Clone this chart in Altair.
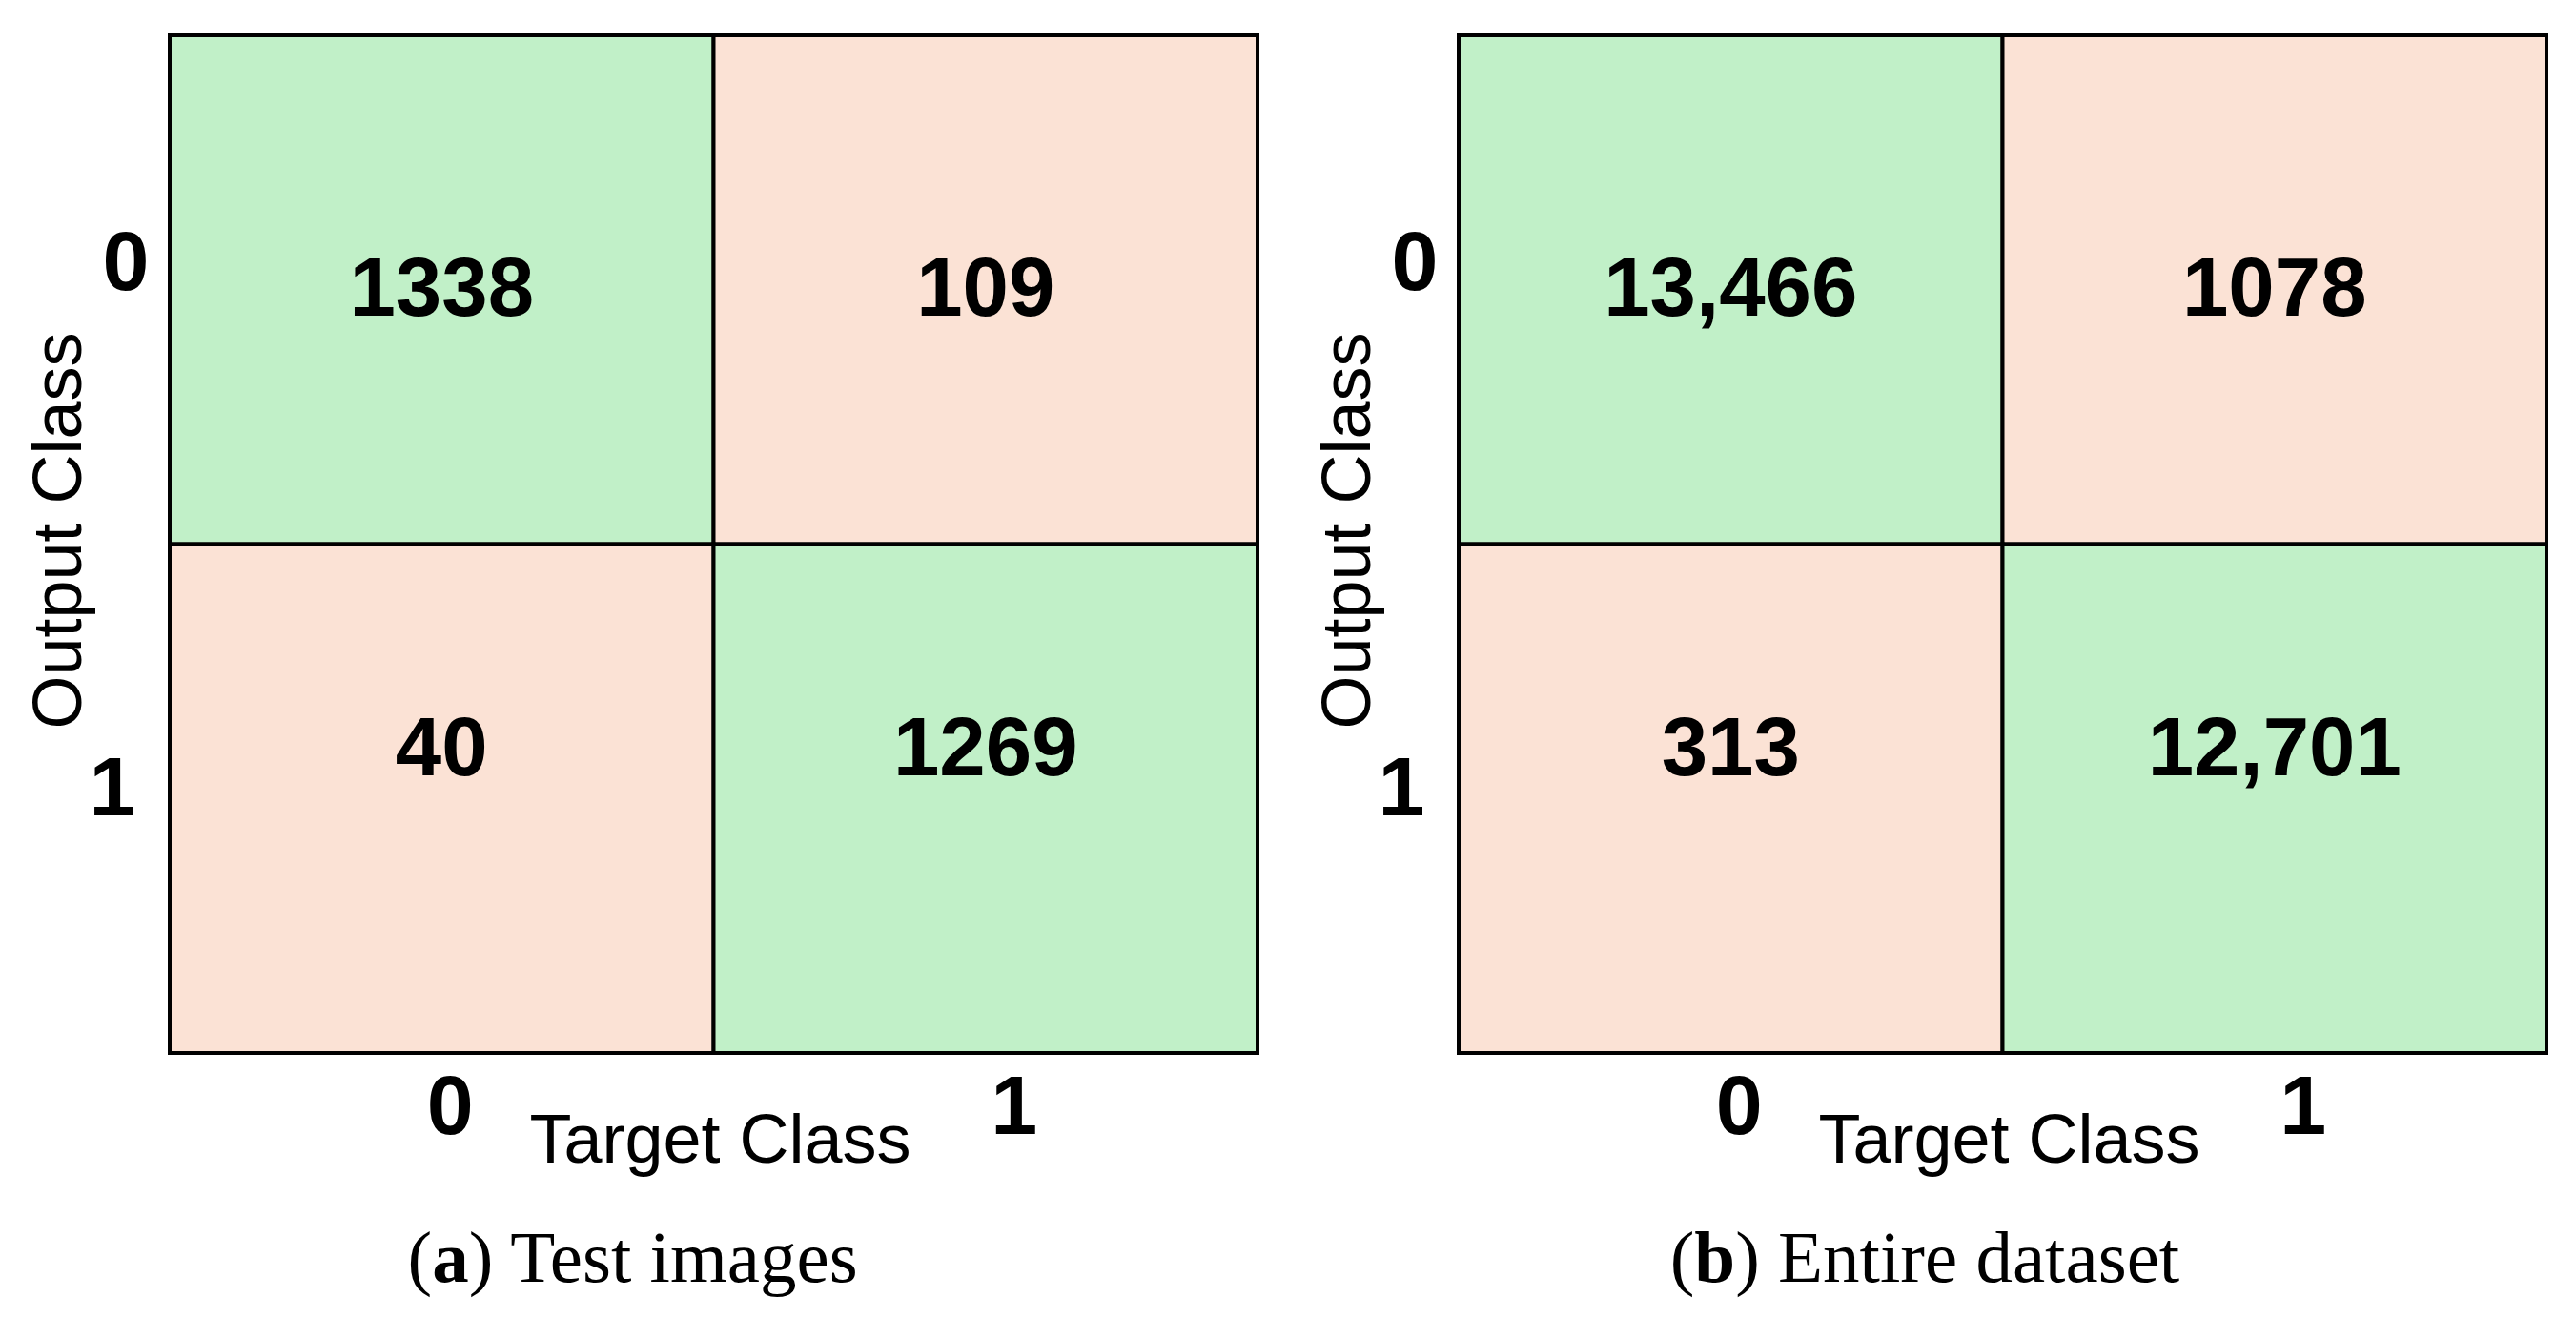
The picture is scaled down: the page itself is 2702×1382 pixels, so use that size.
import altair as alt
import pandas as pd

# ---- data ----
classes = ["0", "1"]
output_class = ["0", "0", "1", "1"]
target_class = ["0", "1", "0", "1"]
test_counts = [1338, 109, 40, 1269]
all_counts = [13466, 1078, 313, 12701]
letters = ["a", "b"]
captions = [") Test images", ") Entire dataset"]

GREEN = "#C1F0C8"
PINK = "#FBE2D5"
SANS = "Liberation Sans"
SERIF = "Liberation Serif"
W, H = 1141, 1067
CAP_FS = 77
NUM_FS = 87

# Times/Liberation Serif advance widths (em) for caption layout
REG = {'(': .333, ')': .333, ' ': .25, 'T': .611, 'e': .444, 's': .389, 't': .278,
       'i': .278, 'm': .778, 'a': .444, 'g': .5, 'E': .611, 'n': .5, 'r': .333, 'd': .5}
BOLD = {'a': .5, 'b': .556}


def text_w(s, table):
    return sum(table.get(c, .5) for c in s) * CAP_FS


def panel(counts, letter, caption):
    df = pd.DataFrame({"output": output_class, "target": target_class, "count": counts})
    base = alt.Chart(df).transform_calculate(
        match="datum.output == datum.target ? 'yes' : 'no'",
        label="datum.count >= 10000 ? format(datum.count, ',') : format(datum.count, 'd')",
    )
    x = alt.X(
        "target:N",
        scale=alt.Scale(domain=classes, paddingInner=0, paddingOuter=0),
        axis=alt.Axis(
            title="Target Class", titleFont=SANS, titleFontSize=72, titleFontWeight="normal",
            titleColor="black", titleX=577, titleY=114, titleBaseline="alphabetic",
            titleAlign="center",
            labelFont=SANS, labelFontWeight="bold", labelFontSize=88, labelColor="black",
            labelAngle=0, labelBaseline="alphabetic", labelPadding=84,
            labelOffset={"condition": {"test": "datum.label == '0'", "value": 9}, "value": 30},
            domain=False, ticks=False, grid=False,
        ),
    )
    y = alt.Y(
        "output:N",
        scale=alt.Scale(domain=classes, paddingInner=0, paddingOuter=0),
        axis=alt.Axis(
            title="Output Class", titleFont=SANS, titleFontSize=72, titleFontWeight="normal",
            titleColor="black", titleAngle=270, titleX=-94, titleY=519,
            titleBaseline="alphabetic", titleAlign="center",
            labelFont=SANS, labelFontWeight="bold", labelFontSize=88, labelColor="black",
            labelAlign="right", labelBaseline="middle",
            labelPadding={"condition": {"test": "datum.label == '0'", "value": 22}, "value": 36},
            labelOffset={"condition": {"test": "datum.label == '0'", "value": -26}, "value": -8},
            domain=False, ticks=False, grid=False,
        ),
    )
    rects = base.mark_rect(stroke="black", strokeWidth=4).encode(
        x=x, y=y,
        color=alt.Color("match:N", scale=alt.Scale(domain=["yes", "no"], range=[GREEN, PINK]),
                        legend=None),
    )
    texts_top = base.transform_filter("datum.output == '0'").mark_text(
        font=SANS, fontWeight="bold", fontSize=NUM_FS, baseline="middle", dy=1, color="black"
    ).encode(x=x, y=y, text="label:N")
    texts_bot = base.transform_filter("datum.output == '1'").mark_text(
        font=SANS, fontWeight="bold", fontSize=NUM_FS, baseline="middle", dy=-50, color="black"
    ).encode(x=x, y=y, text="label:N")

    # caption: "(" + bold letter + rest
    center = 489
    cap_y = 1307
    w_open = text_w("(", REG)
    w_let = text_w(letter, BOLD)
    w_rest = text_w(caption, REG)
    start = center - (w_open + w_let + w_rest) / 2
    cap_df = pd.DataFrame({"open": ["("], "letter": [letter], "rest": [caption]})
    cbase = alt.Chart(cap_df)
    c1 = cbase.mark_text(font=SERIF, fontSize=CAP_FS, align="left", baseline="alphabetic",
                         color="black").encode(x=alt.value(start), y=alt.value(cap_y), text="open:N")
    c2 = cbase.mark_text(font=SERIF, fontSize=CAP_FS, fontWeight="bold", align="left",
                         baseline="alphabetic", color="black").encode(
        x=alt.value(start + w_open), y=alt.value(cap_y), text="letter:N")
    c3 = cbase.mark_text(font=SERIF, fontSize=CAP_FS, align="left", baseline="alphabetic",
                         color="black").encode(
        x=alt.value(start + w_open + w_let), y=alt.value(cap_y), text="rest:N")

    return alt.layer(rects, texts_top, texts_bot, c1, c2, c3).properties(width=W, height=H)


left = panel(test_counts, letters[0], captions[0])
right = panel(all_counts, letters[1], captions[1])

chart = alt.hconcat(left, right, spacing=55).properties(
    padding={"left": 17, "top": 26, "right": 5, "bottom": 5}
).configure_view(stroke="black", strokeWidth=4).configure(background="white")

chart.save("out.html", embed_options={"renderer": "svg", "actions": False})
